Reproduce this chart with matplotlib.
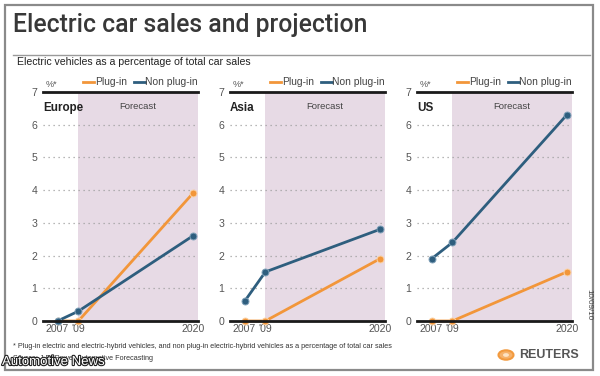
"""Electric car sales and projection, three regional panels."""

import matplotlib

matplotlib.use("Agg")
import matplotlib.patheffects as pe
import matplotlib.pyplot as plt
from matplotlib.patches import Circle, Rectangle

YEARS = [2007, 2009, 2020]
YEAR_LABELS = ["2007", "'09", "2020"]
REGIONS = ["Europe", "Asia", "US"]
PLUG_IN = {
    "Europe": [0.0, 0.0, 3.9],
    "Asia": [0.0, 0.0, 1.9],
    "US": [0.0, 0.0, 1.5],
}
NON_PLUG_IN = {
    "Europe": [0.0, 0.3, 2.6],
    "Asia": [0.6, 1.5, 2.8],
    "US": [1.9, 2.4, 6.3],
}
Y_TICKS = [0, 1, 2, 3, 4, 5, 6, 7]
FORECAST_START = 2009

ORANGE = "#f2963a"
BLUE = "#2e5e7e"
SHADE = "#e7dae5"
GREY_TEXT = "#555555"

plt.rcParams["font.family"] = ["Liberation Sans", "DejaVu Sans"]

fig = plt.figure(figsize=(6.0, 3.76), dpi=100)
W, H = 600, 376


def fx(px):
    return px / W


def fy(py):
    return 1 - py / H


# outer frame
fig.patches.append(
    Rectangle((fx(5), fy(370)), fx(588), 365 / H, transform=fig.transFigure,
              fill=False, edgecolor="#8a8a8a", linewidth=1.6)
)

fig.text(fx(13), fy(25), "Electric car sales and projection", fontsize=17.8,
         family=["Roboto", "Liberation Sans", "DejaVu Sans"], fontweight="medium",
         color="#383838", va="center", ha="left")
fig.lines.append(
    plt.Line2D([fx(13), fx(590)], [fy(55), fy(55)], transform=fig.transFigure,
               color="#9a9a9a", linewidth=1.0)
)
fig.text(fx(17), fy(62), "Electric vehicles as a percentage of total car sales",
         fontsize=7.6, color="#222222", va="center", ha="left")

panel_left = [43, 230, 417]
panel_width = 155
for region, left in zip(REGIONS, panel_left):
    ax = fig.add_axes([fx(left), fy(321), fx(panel_width), 229 / H])
    ax.set_xlim(2005.6, 2020.5)
    ax.set_ylim(0, 7)
    ax.axvspan(FORECAST_START, 2020.5, color=SHADE, zorder=0, linewidth=0)

    for val in Y_TICKS[1:-1]:
        ax.axhline(val, color="#a0a0a0", linestyle=(0, (1, 3)), linewidth=0.9,
                   zorder=1)

    ax.plot(YEARS, PLUG_IN[region], color=ORANGE, linewidth=2.0, marker="o",
            markersize=5, markeredgecolor="#fbd3a8", markeredgewidth=0.7,
            zorder=3, clip_on=False)
    ax.plot(YEARS, NON_PLUG_IN[region], color=BLUE, linewidth=2.0, marker="o",
            markersize=5, markeredgecolor="#7fa0b8", markeredgewidth=0.7,
            zorder=4, clip_on=False)

    for side in ("left", "right"):
        ax.spines[side].set_visible(False)
    for side in ("top", "bottom"):
        ax.spines[side].set_linewidth(2.0)
        ax.spines[side].set_color("#1a1a1a")
        ax.spines[side].set_zorder(5)

    ax.set_yticks(Y_TICKS)
    ax.set_xticks(YEARS)
    ax.set_xticklabels(YEAR_LABELS)
    ax.tick_params(axis="both", length=0, labelsize=7.6, colors=GREY_TEXT)
    ax.tick_params(axis="y", pad=4)
    ax.tick_params(axis="x", pad=2)

    ax.text(0.0, 6.5, region, transform=ax.get_yaxis_transform(), fontsize=8.4,
            fontweight="bold", color="#222222", va="center", ha="left")
    ax.text((FORECAST_START + 2020.5) / 2, 6.55, "Forecast", fontsize=6.8,
            color="#444444", va="center", ha="center")

    ax.text(0.02, 1.015, "%*", transform=ax.transAxes, fontsize=6.5,
            color=GREY_TEXT, va="bottom", ha="left")
    ax.plot([0.255, 0.33], [1.045, 1.045], transform=ax.transAxes, color=ORANGE,
            linewidth=2.0, clip_on=False)
    ax.text(0.335, 1.045, "Plug-in", transform=ax.transAxes, fontsize=7.4,
            color="#444444", va="center", ha="left")
    ax.plot([0.585, 0.655], [1.045, 1.045], transform=ax.transAxes, color=BLUE,
            linewidth=2.0, clip_on=False)
    ax.text(0.66, 1.045, "Non plug-in", transform=ax.transAxes, fontsize=7.4,
            color="#444444", va="center", ha="left")

fig.text(fx(13), fy(346),
         "* Plug-in electric and electric-hybrid vehicles, and non plug-in "
         "electric-hybrid vehicles as a percentage of total car sales",
         fontsize=5.2, color="#333333", va="center", ha="left")
fig.text(fx(13), fy(359), "Source: J.D. Power Automotive Forecasting",
         fontsize=5.2, color="#333333", va="center", ha="left")
fig.text(fx(2), fy(362), "Automotive News", fontsize=9.5, color="white",
         va="center", ha="left",
         path_effects=[pe.withStroke(linewidth=1.6, foreground="#222222")])

fig.text(fx(589), fy(305), "10/09/10", fontsize=5.8, color="#444444",
         rotation=-90, va="center", ha="center")

# Reuters logo
fig.patches.append(Circle((fx(506), fy(355)), 7.5 / W, transform=fig.transFigure,
                          facecolor="#f6b26b", edgecolor="#f29a3e",
                          linewidth=1.5))
fig.patches.append(Circle((fx(506), fy(355)), 3.0 / W, transform=fig.transFigure,
                          facecolor="#fde3c4", edgecolor="none"))
fig.text(fx(519), fy(355), "REUTERS", fontsize=9.0, fontweight="bold",
         color="#555555", va="center", ha="left")

fig.savefig("out.png", dpi=100)
